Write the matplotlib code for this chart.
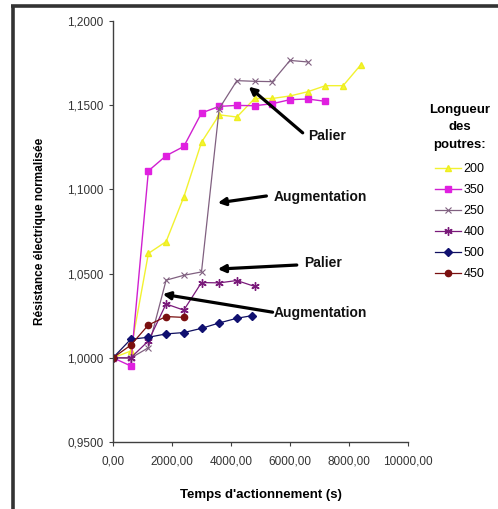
import matplotlib
matplotlib.use("Agg")
import matplotlib.pyplot as plt
from matplotlib.lines import Line2D
from matplotlib.ticker import FuncFormatter

plt.rcParams['font.family'] = ['Liberation Sans', 'DejaVu Sans']

# ---- data ----
x_step = [0, 600, 1200, 1800, 2400, 3000, 3600, 4200, 4800, 5400, 6000, 6600, 7200, 7800, 8400]

s200 = [1.0000, 1.0040, 1.0620, 1.0690, 1.0955, 1.1280, 1.1443, 1.1430, 1.1540,
        1.1540, 1.1555, 1.1580, 1.1616, 1.1616, 1.1740]
s350 = [1.0000, 0.9952, 1.1110, 1.1200, 1.1255, 1.1454, 1.1493, 1.1499, 1.1497,
        1.1509, 1.1533, 1.1537, 1.1523]
s250 = [1.0000, 0.9998, 1.0060, 1.0461, 1.0490, 1.0510, 1.1480, 1.1646, 1.1642,
        1.1640, 1.1766, 1.1757]
s400 = [1.0000, 1.0000, 1.0100, 1.0320, 1.0283, 1.0447, 1.0445, 1.0459, 1.0424]
x500 = [0, 600, 1200, 1800, 2400, 3000, 3600, 4200, 4700]
s500 = [1.0000, 1.0110, 1.0122, 1.0142, 1.0150, 1.0175, 1.0207, 1.0235, 1.0250]
s450 = [1.0000, 1.0075, 1.0195, 1.0245, 1.0240]

labels = ["200", "350", "250", "400", "500", "450"]
xticks = [0, 2000, 4000, 6000, 8000, 10000]
yticks = [0.95, 1.00, 1.05, 1.10, 1.15, 1.20]

# ---- figure ----
fig = plt.figure(figsize=(4.98, 5.09), dpi=100)
ax = fig.add_axes([0.2269, 0.1316, 0.5924, 0.8271])

ax.plot(x_step[:len(s200)], s200, color='#F2F230', lw=1.0, marker='^', ms=5,
        mec='#EEEE20', mfc='#F5F530', label=labels[0])
ax.plot(x_step[:len(s350)], s350, color='#D020D0', lw=1.0, marker='s', ms=5,
        mec='#E020E0', mfc='#E020E0', label=labels[1])
ax.plot(x_step[:len(s250)], s250, color='#806080', lw=0.9, marker='x', ms=4.5,
        mew=0.8, label=labels[2])
ax.plot(x_step[:len(s400)], s400, color='#7A1A7A', lw=0.9, marker=(6, 2, 0), ms=6,
        mew=1.0, label=labels[3])
ax.plot(x500, s500, color='#101060', lw=0.9, marker='D', ms=3.8,
        mfc='#101070', mec='#101070', label=labels[4])
ax.plot(x_step[:len(s450)], s450, color='#7A1010', lw=0.9, marker='o', ms=4.5,
        mfc='#7A1010', mec='#7A1010', label=labels[5])

ax.set_xlim(0, 10000)
ax.set_ylim(0.95, 1.20)
ax.set_xticks(xticks)
ax.set_yticks(yticks)
ax.xaxis.set_major_formatter(FuncFormatter(lambda v, p: f"{v:.2f}".replace('.', ',')))
ax.yaxis.set_major_formatter(FuncFormatter(lambda v, p: f"{v:.4f}".replace('.', ',')))
ax.tick_params(axis='both', direction='out', length=3, width=0.8, colors='#404040',
               labelsize=8.5, labelcolor='#333333')
ax.tick_params(axis='y', pad=4)
ax.tick_params(axis='x', pad=7)
for s in ['top', 'right']:
    ax.spines[s].set_visible(False)
for s in ['left', 'bottom']:
    ax.spines[s].set_color('#404040')
    ax.spines[s].set_linewidth(1.0)

ax.set_xlabel("Temps d'actionnement (s)", fontsize=9.5, fontweight='bold', labelpad=15)
ax.set_ylabel("Résistance électrique normalisée", fontsize=8.5, fontweight='bold', labelpad=15)

# ---- annotations ----
ann = [
    ("Palier", (6600, 1.1318), (6430, 1.1336), (4600, 1.1610)),
    ("Augmentation", (5450, 1.0955), (5200, 1.0961), (3550, 1.0920)),
    ("Palier", (6465, 1.0563), (6230, 1.0551), (3550, 1.0527)),
    ("Augmentation", (5450, 1.0265), (5410, 1.0271), (1685, 1.0378)),
]
for txt, tpos, tail, tip in ann:
    ax.annotate('', xy=tip, xytext=tail,
                arrowprops=dict(arrowstyle='-|>', lw=2.3, color='black',
                                mutation_scale=11, shrinkA=0, shrinkB=0))
    ax.text(tpos[0], tpos[1], txt, fontsize=10, fontweight='bold', ha='left',
            va='center', color='#111111')

# ---- legend ----
handles, lbls = ax.get_legend_handles_labels()
leg = fig.legend(handles, lbls, title="Longueur\ndes\npoutres:", loc='upper left',
                 bbox_to_anchor=(0.862, 0.796), frameon=False, fontsize=9,
                 handlelength=2.1, handletextpad=0.2, labelspacing=0.72,
                 borderaxespad=0, borderpad=0)
leg.get_title().set_fontweight('bold')
leg.get_title().set_fontsize(9.5)
leg.get_title().set_multialignment('center')
leg.get_title().set_linespacing(1.6)
leg._legend_box.sep = 9

# ---- frame ----
fig.add_artist(Line2D([0.0271, 0.0271], [0, 0.9891], transform=fig.transFigure,
                      color='#333333', lw=2.6, solid_capstyle='butt'))
fig.add_artist(Line2D([0.022, 1.0], [0.9891, 0.9891], transform=fig.transFigure,
                      color='#333333', lw=2.6, solid_capstyle='butt'))

fig.savefig("out.png", dpi=100, facecolor='white')
